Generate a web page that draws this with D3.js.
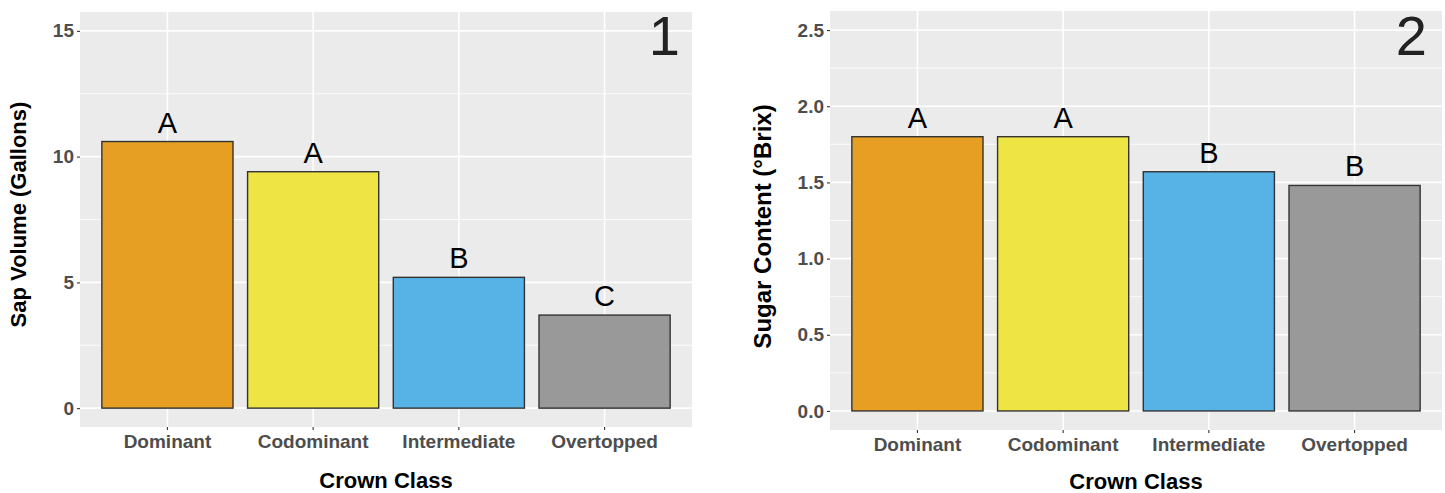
<!DOCTYPE html>
<html>
<head>
<meta charset="utf-8">
<script src="https://cdn.jsdelivr.net/npm/d3@7"></script>
<style>
  html, body { margin: 0; padding: 0; background: #ffffff; }
  svg { display: block; font-family: "Liberation Sans", Arial, Helvetica, sans-serif; }
</style>
</head>
<body>
<svg id="chart" width="1445" height="493"></svg>
<script>
// ---- data ----
const categories = ["Dominant", "Codominant", "Intermediate", "Overtopped"];
const barColors = ["#E69F22", "#EEE443", "#57B3E6", "#999999"];

const sapVolume = [10.6, 9.4, 5.2, 3.7];
const sapLetters = ["A", "A", "B", "C"];
const sapTicks = [0, 5, 10, 15];
const sapMinor = [2.5, 7.5, 12.5];

const sugarContent = [1.80, 1.80, 1.57, 1.48];
const sugarLetters = ["A", "A", "B", "B"];
const sugarTicks = [0, 0.5, 1.0, 1.5, 2.0, 2.5];
const sugarMinor = [0.25, 0.75, 1.25, 1.75, 2.25];

const panelLabels = ["1", "2"];
const xTitle = "Crown Class";
const yTitles = ["Sap Volume (Gallons)", "Sugar Content (°Brix)"];

const svg = d3.select("#chart");

function drawPanel(cfg) {
  const g = svg.append("g");
  const x = d3.scaleBand().domain(categories).range([cfg.x0, cfg.x1])
    .paddingInner(0.1).paddingOuter(0.15);
  const y = d3.scaleLinear().domain(cfg.yDomain).range([cfg.y1, cfg.y0]);

  // panel background
  g.append("rect").attr("x", cfg.x0).attr("y", cfg.y0)
    .attr("width", cfg.x1 - cfg.x0).attr("height", cfg.y1 - cfg.y0)
    .attr("fill", "#EBEBEB");

  // minor grid
  g.selectAll(".minor").data(cfg.minor).join("line")
    .attr("x1", cfg.x0).attr("x2", cfg.x1)
    .attr("y1", d => y(d)).attr("y2", d => y(d))
    .attr("stroke", "#ffffff").attr("stroke-width", 0.8);
  // major grid
  g.selectAll(".majory").data(cfg.ticks).join("line")
    .attr("x1", cfg.x0).attr("x2", cfg.x1)
    .attr("y1", d => y(d)).attr("y2", d => y(d))
    .attr("stroke", "#ffffff").attr("stroke-width", 1.6);
  g.selectAll(".majorx").data(categories).join("line")
    .attr("x1", d => x(d) + x.bandwidth() / 2).attr("x2", d => x(d) + x.bandwidth() / 2)
    .attr("y1", cfg.y0).attr("y2", cfg.y1)
    .attr("stroke", "#ffffff").attr("stroke-width", 1.6);

  // bars
  g.selectAll(".bar").data(cfg.values).join("rect")
    .attr("x", (d, i) => x(categories[i]))
    .attr("y", d => y(d))
    .attr("width", x.bandwidth())
    .attr("height", d => y(0) - y(d))
    .attr("fill", (d, i) => barColors[i])
    .attr("stroke", "#333333").attr("stroke-width", 1.4);

  // letters
  g.selectAll(".letter").data(cfg.values).join("text")
    .attr("x", (d, i) => x(categories[i]) + x.bandwidth() / 2)
    .attr("y", d => y(d) - 9)
    .attr("text-anchor", "middle")
    .attr("font-size", 29)
    .attr("fill", "#000000")
    .text((d, i) => cfg.letters[i]);

  // y axis
  const yAxis = d3.axisLeft(y).tickValues(cfg.ticks).tickSize(3).tickPadding(3)
    .tickFormat(cfg.fmt);
  const ya = g.append("g").attr("transform", `translate(${cfg.x0},0)`).call(yAxis);
  ya.select(".domain").remove();
  ya.selectAll(".tick line").attr("stroke", "#333333").attr("stroke-width", 1.1);
  ya.selectAll(".tick text").attr("font-size", 19).attr("font-weight", "bold")
    .attr("fill", "#4D4D4D").attr("font-family", "Liberation Sans, Arial, sans-serif");

  // x axis
  const xAxis = d3.axisBottom(x).tickSize(3).tickPadding(5);
  const xa = g.append("g").attr("transform", `translate(0,${cfg.y1})`).call(xAxis);
  xa.select(".domain").remove();
  xa.selectAll(".tick line").attr("stroke", "#333333").attr("stroke-width", 1.1);
  xa.selectAll(".tick text").attr("font-size", 19).attr("font-weight", "bold")
    .attr("fill", "#4D4D4D").attr("font-family", "Liberation Sans, Arial, sans-serif");

  // titles
  g.append("text").attr("x", (cfg.x0 + cfg.x1) / 2).attr("y", cfg.xTitleY)
    .attr("text-anchor", "middle").attr("font-size", 22).attr("font-weight", "bold")
    .attr("fill", "#000000").text(xTitle);
  g.append("text")
    .attr("transform", `translate(${cfg.yTitleX},${(cfg.y0 + cfg.y1) / 2 + cfg.yTitleDy}) rotate(-90)`)
    .attr("text-anchor", "middle").attr("font-size", cfg.yTitleSize).attr("font-weight", "bold")
    .attr("fill", "#000000").text(cfg.yTitle);

  // panel label
  g.append("text").attr("x", cfg.x1 - cfg.labelInset).attr("y", 55)
    .attr("text-anchor", "end").attr("font-size", 56).attr("fill", "#222222")
    .text(cfg.label);
}

drawPanel({
  x0: 80, x1: 692, y0: 12, y1: 427,
  yDomain: [-0.75, 15.75],
  values: sapVolume, letters: sapLetters, ticks: sapTicks, minor: sapMinor,
  fmt: d3.format("d"),
  yTitle: yTitles[0], yTitleX: 26, yTitleDy: -5, yTitleSize: 22,
  xTitleY: 488,
  label: panelLabels[0], labelInset: 12
});

drawPanel({
  x0: 830, x1: 1442, y0: 11, y1: 430,
  yDomain: [-0.125, 2.625],
  values: sugarContent, letters: sugarLetters, ticks: sugarTicks, minor: sugarMinor,
  fmt: d3.format(".1f"),
  yTitle: yTitles[1], yTitleX: 771, yTitleDy: 6, yTitleSize: 24,
  xTitleY: 489,
  label: panelLabels[1], labelInset: 15
});
</script>
</body>
</html>
